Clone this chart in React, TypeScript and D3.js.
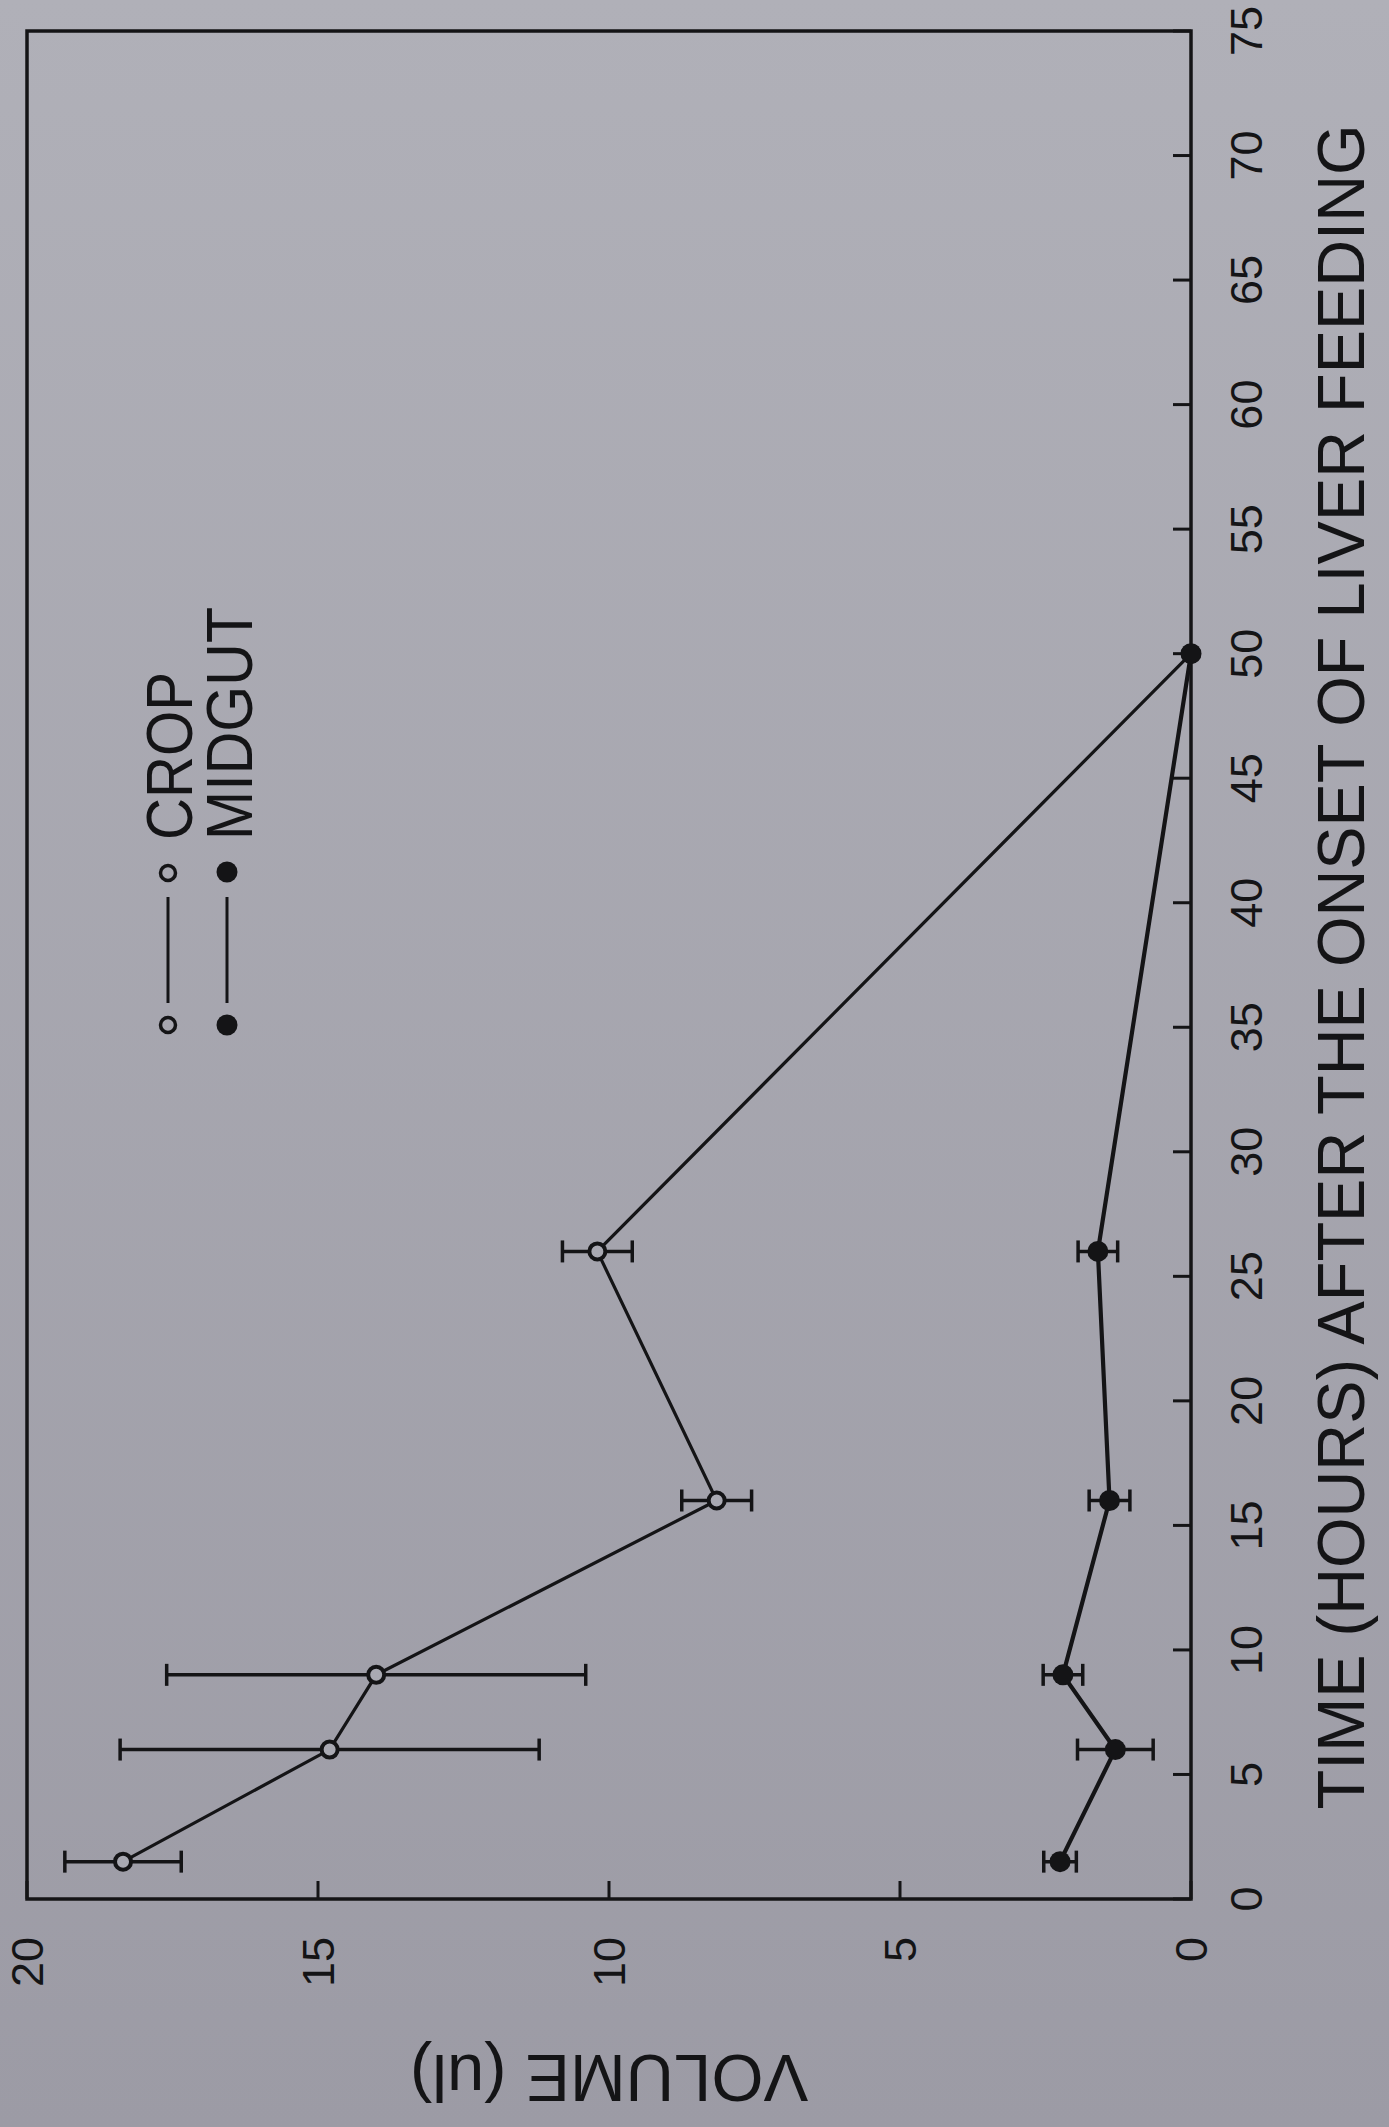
import React from "react";
import * as d3 from "d3";

// ---- data ----
const hours = [1.5, 6, 9, 16, 26, 50];
const cropVolume = [18.35, 14.8, 14.0, 8.15, 10.2, 0];
const cropError = [1.0, 3.6, 3.6, 0.6, 0.6, 0];
const midgutVolume = [2.25, 1.3, 2.2, 1.4, 1.6, 0];
const midgutError = [0.28, 0.65, 0.34, 0.35, 0.34, 0];

const timeTicks = [0, 5, 10, 15, 20, 25, 30, 35, 40, 45, 50, 55, 60, 65, 70, 75];
const volumeTicks = [0, 5, 10, 15, 20];

const timeTitle = "TIME (HOURS) AFTER THE ONSET OF LIVER FEEDING";
const volumeTitle = "VOLUME (ul)";
const legendLabels = ["CROP", "MIDGUT"];

const W = 1389;
const H = 2127;
const INK = "#141416";
const FONT = "'Liberation Sans', Arial, Helvetica, sans-serif";

export default function App() {
  // Rotated figure: volume runs horizontally (0 at right), time runs vertically (0 at bottom)
  const v = d3.scaleLinear().domain([0, 20]).range([1191, 27]);
  const t = d3.scaleLinear().domain([0, 75]).range([1899, 31]);

  const crop = hours.map((h, i) => ({ t: h, v: cropVolume[i], e: cropError[i] }));
  const mid = hours.map((h, i) => ({ t: h, v: midgutVolume[i], e: midgutError[i] }));

  const line = d3
    .line<{ t: number; v: number }>()
    .x((d) => v(d.v))
    .y((d) => t(d.t));

  const cap = 11;

  const errBars = (data: { t: number; v: number; e: number }[], key: string) =>
    data
      .filter((d) => d.e > 0)
      .map((d, i) => {
        const y = t(d.t);
        const x1 = v(d.v + d.e);
        const x2 = v(d.v - d.e);
        return (
          <g key={key + i} stroke={INK} strokeWidth={3.5}>
            <line x1={x1} x2={x2} y1={y} y2={y} />
            <line x1={x1} x2={x1} y1={y - cap} y2={y + cap} />
            <line x1={x2} x2={x2} y1={y - cap} y2={y + cap} />
          </g>
        );
      });

  const x0 = v(0);
  const x20 = v(20);
  const y0 = t(0);
  const y75 = t(75);

  return (
    <svg
      width={W}
      height={H}
      style={{ position: "absolute", left: 0, top: 0 }}
      fontFamily={FONT}
    >
      <defs>
        <linearGradient id="bg" x1="0" y1="0" x2="0" y2="1">
          <stop offset="0%" stopColor="#b0b0b8" />
          <stop offset="100%" stopColor="#9c9ba5" />
        </linearGradient>
      </defs>
      <rect x={0} y={0} width={W} height={H} fill="url(#bg)" />

      {/* frame */}
      <rect
        x={x20}
        y={y75}
        width={x0 - x20}
        height={y0 - y75}
        fill="none"
        stroke={INK}
        strokeWidth={3.5}
      />

      {/* time ticks (right edge, pointing inward) */}
      {timeTicks.map((d) => (
        <line key={"tt" + d} x1={x0} x2={x0 - 18} y1={t(d)} y2={t(d)} stroke={INK} strokeWidth={3} />
      ))}
      {/* volume ticks (bottom edge, pointing inward) */}
      {volumeTicks.map((d) => (
        <line key={"vt" + d} x1={v(d)} x2={v(d)} y1={y0} y2={y0 - 18} stroke={INK} strokeWidth={3} />
      ))}

      {/* time tick labels */}
      {timeTicks.map((d) => (
        <text
          key={"tl" + d}
          transform={`translate(${x0 + 71},${t(d)}) rotate(-90)`}
          textAnchor="middle"
          fontSize={45}
          fill={INK}
        >
          {d}
        </text>
      ))}

      {/* volume tick labels */}
      {volumeTicks.map((d) => (
        <text
          key={"vl" + d}
          transform={`translate(${v(d) + 16},${y0 + 38}) rotate(-90)`}
          textAnchor="end"
          fontSize={45}
          fill={INK}
        >
          {d}
        </text>
      ))}

      {/* axis titles */}
      <text
        transform={`translate(${x0 + 173},${t(37.5) + 2}) rotate(-90)`}
        textAnchor="middle"
        fontSize={67}
        textLength={1685}
        lengthAdjust="spacingAndGlyphs"
        fill={INK}
      >
        {timeTitle}
      </text>
      <text
        transform={`translate(${v(10)},${y0 + 156}) rotate(180)`}
        textAnchor="middle"
        fontSize={67}
        fill={INK}
      >
        {volumeTitle}
      </text>

      {/* crop series */}
      <path d={line(crop) || ""} fill="none" stroke={INK} strokeWidth={3.2} />
      {errBars(crop, "ce")}
      {crop.map((d, i) => (
        <circle key={"cc" + i} cx={v(d.v)} cy={t(d.t)} r={8} fill="#a9a9b2" stroke={INK} strokeWidth={4} />
      ))}

      {/* midgut series */}
      <path d={line(mid) || ""} fill="none" stroke={INK} strokeWidth={4.2} />
      {errBars(mid, "me")}
      {mid.map((d, i) => (
        <circle key={"mc" + i} cx={v(d.v)} cy={t(d.t)} r={10.5} fill={INK} />
      ))}

      {/* legend */}
      <g>
        <circle cx={168} cy={1025} r={7.5} fill="none" stroke={INK} strokeWidth={3.5} />
        <line x1={168} x2={168} y1={1003} y2={897} stroke={INK} strokeWidth={3} />
        <circle cx={168} cy={873} r={7.5} fill="none" stroke={INK} strokeWidth={3.5} />
        <text
          transform={`translate(192,840) rotate(-90)`}
          fontSize={64}
          textLength={168}
          lengthAdjust="spacingAndGlyphs"
          fill={INK}
        >
          {legendLabels[0]}
        </text>

        <circle cx={227} cy={1025} r={10.5} fill={INK} />
        <line x1={227} x2={227} y1={1003} y2={897} stroke={INK} strokeWidth={3} />
        <circle cx={227} cy={872} r={10.5} fill={INK} />
        <text
          transform={`translate(252,840) rotate(-90)`}
          fontSize={64}
          textLength={233}
          lengthAdjust="spacingAndGlyphs"
          fill={INK}
        >
          {legendLabels[1]}
        </text>
      </g>
    </svg>
  );
}
